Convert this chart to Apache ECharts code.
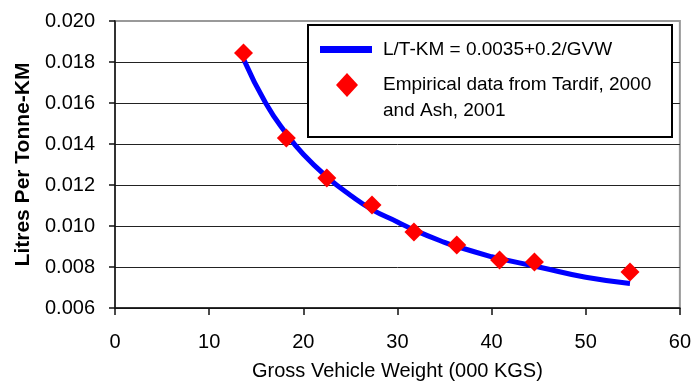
<!DOCTYPE html>
<html>
<head>
<meta charset="utf-8">
<script src="https://cdn.jsdelivr.net/npm/echarts@6/dist/echarts.min.js"></script>
<style>
  html, body { margin: 0; padding: 0; background: #fff; }
  #chart { width: 694px; height: 388px; }
</style>
</head>
<body>
<div id="chart"></div>
<script>
// fitted curve
const curveX = [13.7, 16, 18.2, 20, 22.5, 25, 27.3, 30, 31.8, 35, 36.3, 40, 40.9, 45, 50, 54.7];
const curveY = [0.0181, 0.0160, 0.0145, 0.0135, 0.0124, 0.0115, 0.0108, 0.0102, 0.0098, 0.0092, 0.0090, 0.0085, 0.0084, 0.0080, 0.0075, 0.0072];

// empirical points
const gvw = [13.65, 18.2, 22.5, 27.3, 31.75, 36.3, 40.85, 44.55, 54.7];
const litres = [0.01844, 0.01429, 0.01234, 0.01102, 0.00971, 0.00907, 0.00834, 0.00824, 0.00776];

const curveName = "L/T-KM = 0.0035+0.2/GVW";
const pointsName = "Empirical data from Tardif, 2000 and Ash, 2001";

const font = "Liberation Sans, Arial, sans-serif";

const chart = echarts.init(document.getElementById("chart"), null, { renderer: "canvas" });

// last split line (0.020) is the light plot border
const gridColors = ["#222", "#222", "#222", "#222", "#222", "#222", "#222", "#999"];

const option = {
  animation: false,
  backgroundColor: "#fff",
  textStyle: { fontFamily: font },
  grid: {
    left: 115,
    right: 12,
    top: 21,
    bottom: 80,
    show: true,
    borderColor: "#999",
    borderWidth: 2,
  },
  xAxis: {
    type: "value",
    min: 0,
    max: 60,
    interval: 10,
    name: "Gross Vehicle Weight (000 KGS)",
    nameLocation: "middle",
    nameGap: 53,
    nameTextStyle: { fontSize: 20, color: "#000", fontFamily: font },
    axisLine: { show: true, lineStyle: { color: "#111", width: 1.5 } },
    axisTick: { show: true, length: 7, lineStyle: { color: "#111", width: 1.5 } },
    axisLabel: { fontSize: 20, color: "#000", margin: 24, fontFamily: font },
    splitLine: { show: false },
  },
  yAxis: {
    type: "value",
    min: 0.006,
    max: 0.02,
    interval: 0.002,
    name: "Litres Per Tonne-KM",
    nameLocation: "middle",
    nameGap: 79,
    nameTextStyle: { fontSize: 21, fontWeight: "bold", color: "#000", fontFamily: font },
    axisLine: { show: true, lineStyle: { color: "#111", width: 1.5 } },
    axisTick: { show: true, length: 6, lineStyle: { color: "#111", width: 1.5 } },
    axisLabel: {
      fontSize: 20,
      color: "#000",
      margin: 20,
      fontFamily: font,
      formatter: (v) => v.toFixed(3),
    },
    splitLine: { show: true, lineStyle: { color: gridColors, width: 1 } },
  },
  graphic: [
    {
      type: "rect",
      z: 50,
      shape: { x: 308, y: 25, width: 364, height: 112 },
      style: { fill: "#fff", stroke: "#000", lineWidth: 2 },
    },
  ],
  legend: [
    {
      z: 60,
      data: [curveName],
      left: 320,
      top: 40,
      padding: 0,
      icon: "rect",
      itemWidth: 52,
      itemHeight: 7,
      textStyle: { fontSize: 19, color: "#000", fontFamily: font, padding: [0, 0, 0, 6] },
    },
    {
      z: 60,
      data: [pointsName],
      left: 336,
      top: 46,
      padding: 0,
      icon: "diamond",
      itemWidth: 22,
      itemHeight: 24,
      // empty first line keeps the diamond level with the first text line
      formatter: (name) => "\n" + name.replace(", 2000 ", ", 2000\n"),
      textStyle: {
        fontSize: 19,
        lineHeight: 26,
        color: "#000",
        fontFamily: font,
        padding: [0, 0, 0, 20],
      },
    },
  ],
  series: [
    {
      name: curveName,
      type: "line",
      smooth: true,
      showSymbol: false,
      data: curveX.map((x, i) => [x, curveY[i]]),
      lineStyle: { color: "#0000ff", width: 5 },
      itemStyle: { color: "#0000ff" },
      z: 2,
    },
    {
      name: pointsName,
      type: "scatter",
      symbol: "diamond",
      symbolSize: 19,
      data: gvw.map((x, i) => [x, litres[i]]),
      itemStyle: { color: "#ff0000", opacity: 1 },
      z: 3,
    },
  ],
};

chart.setOption(option);
</script>
</body>
</html>
